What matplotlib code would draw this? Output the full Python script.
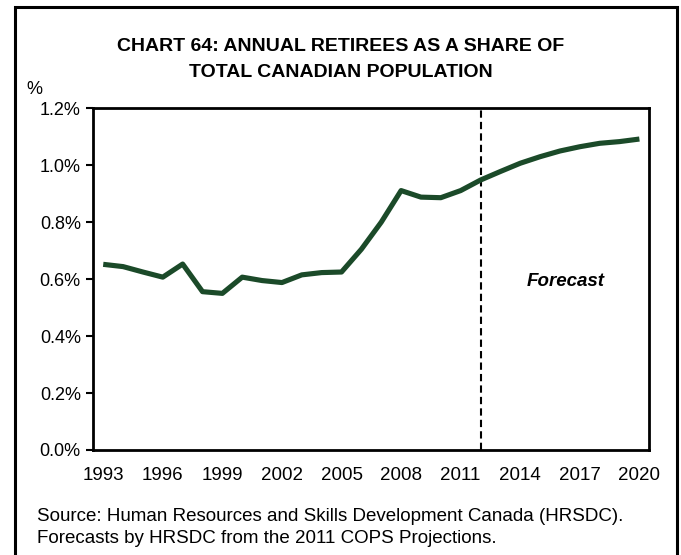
import numpy as np
import matplotlib
matplotlib.use("Agg")
import matplotlib.pyplot as plt
from matplotlib.patches import Rectangle
from matplotlib.ticker import FuncFormatter

plt.rcParams['font.family'] = ['Liberation Sans', 'DejaVu Sans']

# data (share of population, %)
years = list(range(1993, 2021))
share = [0.652, 0.644, 0.625, 0.607, 0.653, 0.556, 0.550, 0.607, 0.595, 0.588,
         0.615, 0.623, 0.625, 0.705, 0.800, 0.911, 0.888, 0.886, 0.911, 0.948,
         0.978, 1.007, 1.030, 1.050, 1.065, 1.077, 1.083, 1.092]
tick_years = [1993, 1996, 1999, 2002, 2005, 2008, 2011, 2014, 2017, 2020]
forecast_start = 2012

fig = plt.figure(figsize=(6.81, 5.55), dpi=100)
ax = fig.add_axes([0.137, 0.1892, 0.8165, 0.6157])

x = np.arange(len(years))
ax.plot(x, share, color='#1b4a29', lw=3.7, solid_capstyle='butt', zorder=3)

fi = years.index(forecast_start)
ax.axvline(fi, color='black', lw=1.5, dashes=(3.5, 2), zorder=2)
ax.text(fi + 4.3, 0.59, 'Forecast', fontsize=13.5, fontweight='bold', style='italic',
        ha='center', va='center')

ax.set_xlim(-0.5, len(years) - 0.5)
ax.set_ylim(0, 1.2)
ax.set_yticks(np.arange(0, 1.21, 0.2))
ax.yaxis.set_major_formatter(FuncFormatter(lambda v, p: '%.1f%%' % v))
ax.set_xticks([years.index(y) for y in tick_years])
ax.set_xticklabels([str(y) for y in tick_years])
ax.tick_params(axis='y', direction='out', length=5, width=1.5, labelsize=13, pad=4)
ax.tick_params(axis='x', length=0, labelsize=13.5, pad=12)
for s in ax.spines.values():
    s.set_linewidth(2)

fig.text(0.5, 0.893, 'CHART 64: ANNUAL RETIREES AS A SHARE OF\nTOTAL CANADIAN POPULATION',
         ha='center', va='center', fontsize=14, fontweight='bold', linespacing=1.65)
fig.text(0.05, 0.838, '%', fontsize=13, ha='center', va='center')
fig.text(0.054, 0.05, 'Source: Human Resources and Skills Development Canada (HRSDC).\n'
         'Forecasts by HRSDC from the 2011 COPS Projections.',
         ha='left', va='center', fontsize=13.5, linespacing=1.4)

fig.patches.append(Rectangle((0.022, -0.02), 0.972, 1.007, transform=fig.transFigure,
                             fill=False, edgecolor='black', lw=2.2, clip_on=False))

fig.savefig('out.png', dpi=100)
